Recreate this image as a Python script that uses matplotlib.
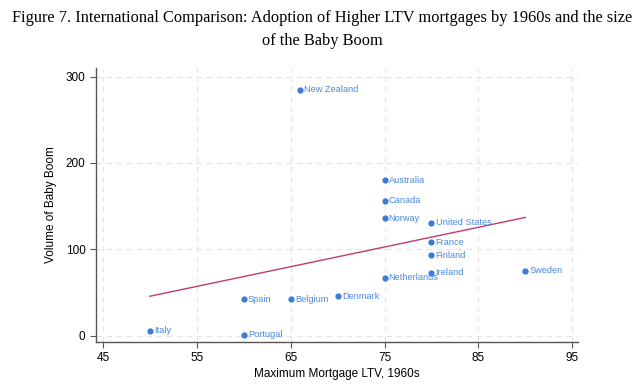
import matplotlib.pyplot as plt
import numpy as np

# data
countries = ['New Zealand', 'Australia', 'Canada', 'Norway', 'United States',
             'France', 'Finland', 'Ireland', 'Netherlands', 'Sweden',
             'Denmark', 'Belgium', 'Spain', 'Italy', 'Portugal']
ltv = [66, 75, 75, 75, 80, 80, 80, 80, 75, 90, 70, 65, 60, 50, 60]
boom = [285, 180, 156, 136, 131, 108, 93, 73, 67, 75, 46, 42, 42, 6, 1]
xticks = [45, 55, 65, 75, 85, 95]
yticks = [0, 100, 200, 300]

fig = plt.figure(figsize=(6.44, 3.88), dpi=100)
ax = fig.add_axes([0.149, 0.119, 0.749, 0.706])

pt_col = '#3a7bd5'
ax.scatter(ltv, boom, s=12, color=pt_col, zorder=3)
for c, x, y in zip(countries, ltv, boom):
    ax.annotate(c, (x, y), xytext=(3, 0), textcoords='offset points',
                va='center', ha='left', fontsize=6.7, color='#4a8ae0',
                family='Liberation Sans')

# linear fit
b, a = np.polyfit(ltv, boom, 1)
xs = np.array([min(ltv), max(ltv)])
ax.plot(xs, a + b * xs, color='#c33a6e', lw=1, zorder=2)

ax.set_xlim(44.25, 95.65)
ax.set_ylim(-7, 310)
ax.set_xticks(xticks)
ax.set_yticks(yticks)
ax.grid(True, color='#e4e4e4', ls=(0, (5, 4)), lw=0.8)
ax.set_axisbelow(True)
for s in ['top', 'right']:
    ax.spines[s].set_visible(False)
for s in ['left', 'bottom']:
    ax.spines[s].set_color('#555555')
    ax.spines[s].set_linewidth(1)
ax.tick_params(direction='out', length=4, color='#555555', labelsize=8.5)
for lab in ax.get_xticklabels() + ax.get_yticklabels():
    lab.set_family('Liberation Sans')

ax.set_xlabel('Maximum Mortgage LTV, 1960s', fontsize=8.5,
              family='Liberation Sans', labelpad=3)
ax.set_ylabel('Volume of Baby Boom', fontsize=8.5,
              family='Liberation Sans', labelpad=6)

fig.text(0.5, 0.953, 'Figure 7. International Comparison: Adoption of Higher LTV mortgages by 1960s and the size',
         ha='center', va='center', fontsize=11.8, family='Liberation Serif')
fig.text(0.5, 0.895, 'of the Baby Boom', ha='center', va='center',
         fontsize=11.8, family='Liberation Serif')

fig.savefig('out.png', dpi=100)
